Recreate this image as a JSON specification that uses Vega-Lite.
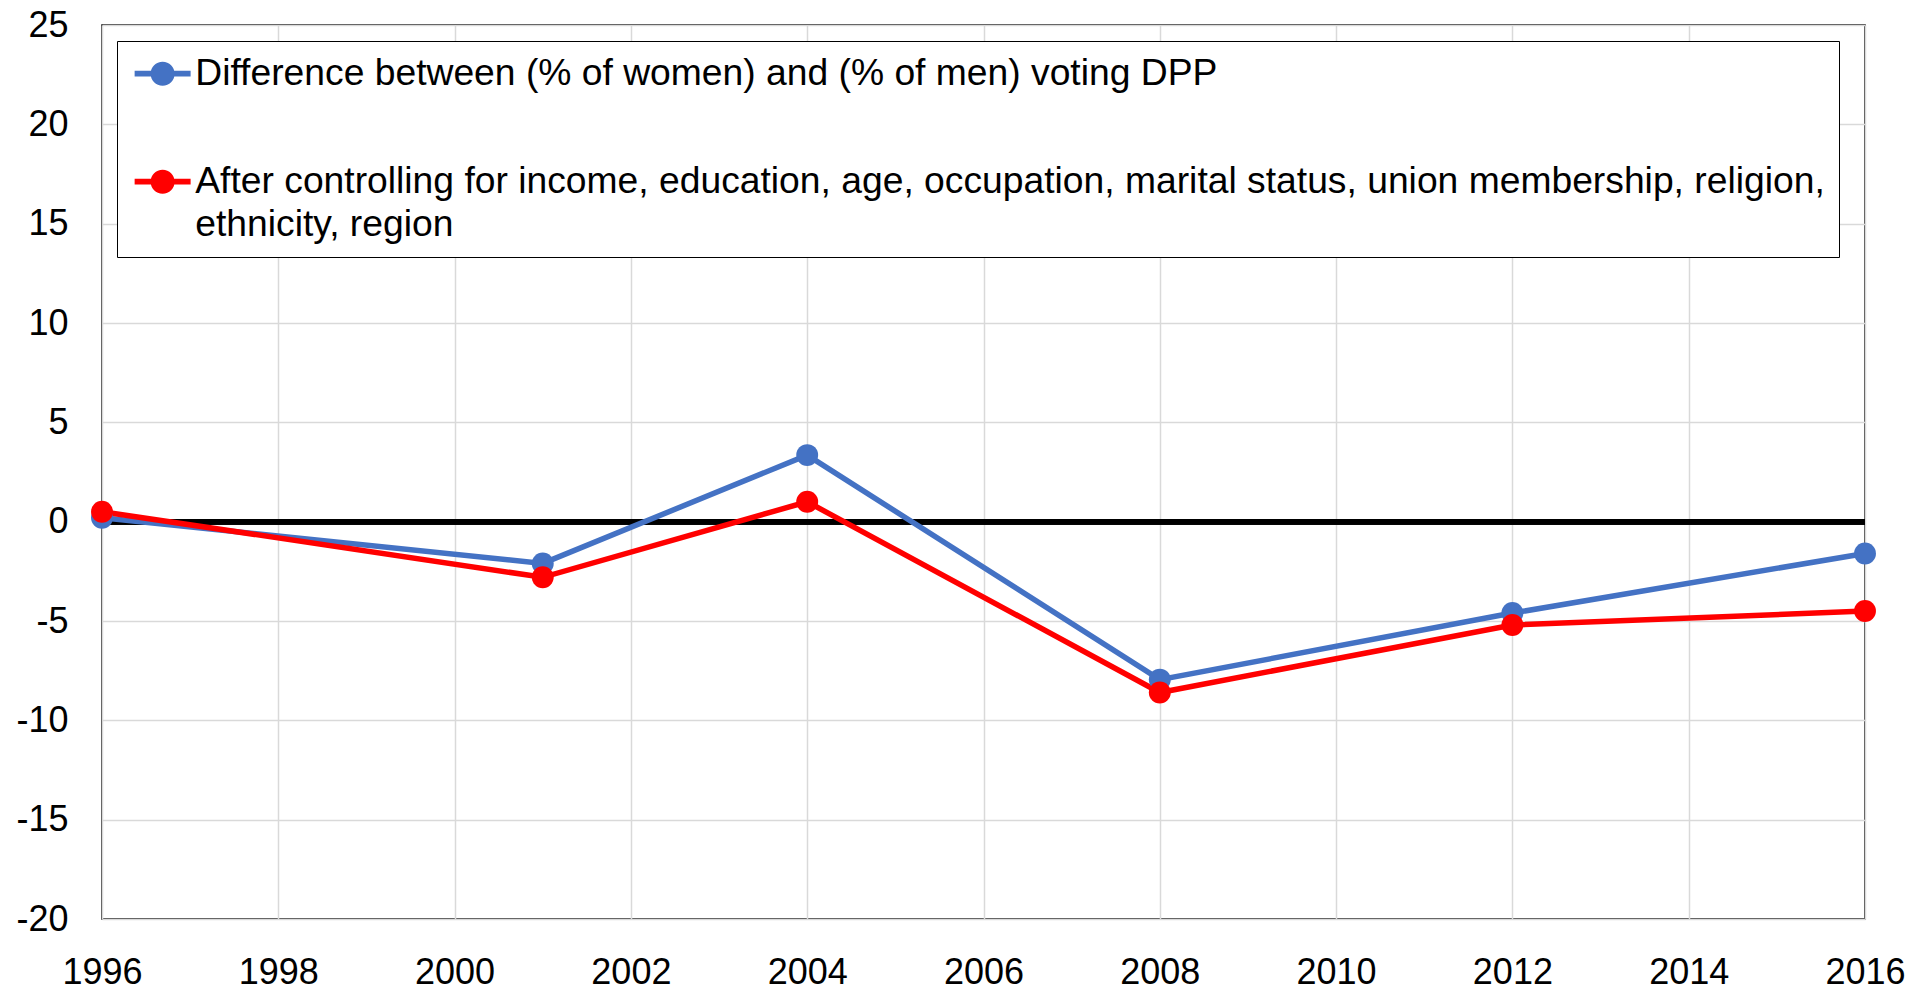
{
  "$schema": "https://vega.github.io/schema/vega-lite/v6.json",
  "width": 1763,
  "height": 894,
  "autosize": "none",
  "padding": {"left": 102, "top": 25, "right": 61, "bottom": 73},
  "background": "white",
  "config": {
    "font": "Liberation Sans",
    "view": {"stroke": "#000000", "strokeWidth": 1.5},
    "axis": {
      "grid": true,
      "gridColor": "#D9D9D9",
      "gridWidth": 1.5,
      "domain": false,
      "ticks": false,
      "labelFontSize": 36,
      "labelColor": "#000000",
      "labelFont": "Liberation Sans",
      "title": null
    }
  },
  "data": {
    "values": [
      {"year": 1996, "value": 0.2, "series": "Difference between (% of women) and (% of men) voting DPP"},
      {"year": 2001, "value": -2.1, "series": "Difference between (% of women) and (% of men) voting DPP"},
      {"year": 2004, "value": 3.35, "series": "Difference between (% of women) and (% of men) voting DPP"},
      {"year": 2008, "value": -7.95, "series": "Difference between (% of women) and (% of men) voting DPP"},
      {"year": 2012, "value": -4.6, "series": "Difference between (% of women) and (% of men) voting DPP"},
      {"year": 2016, "value": -1.6, "series": "Difference between (% of women) and (% of men) voting DPP"},
      {"year": 1996, "value": 0.5, "series": "After controlling for income, education, age, occupation, marital status, union membership, religion, ethnicity, region"},
      {"year": 2001, "value": -2.8, "series": "After controlling for income, education, age, occupation, marital status, union membership, religion, ethnicity, region"},
      {"year": 2004, "value": 1.0, "series": "After controlling for income, education, age, occupation, marital status, union membership, religion, ethnicity, region"},
      {"year": 2008, "value": -8.6, "series": "After controlling for income, education, age, occupation, marital status, union membership, religion, ethnicity, region"},
      {"year": 2012, "value": -5.2, "series": "After controlling for income, education, age, occupation, marital status, union membership, religion, ethnicity, region"},
      {"year": 2016, "value": -4.5, "series": "After controlling for income, education, age, occupation, marital status, union membership, religion, ethnicity, region"}
    ]
  },
  "layer": [
    {
      "mark": {"type": "rule", "color": "#000000", "strokeWidth": 5},
      "encoding": {"y": {"datum": 0, "type": "quantitative"}}
    },
    {
      "mark": {
        "type": "line",
        "strokeWidth": 5.5,
        "point": {"filled": true, "size": 480, "opacity": 1}
      },
      "encoding": {
        "x": {
          "field": "year",
          "type": "quantitative",
          "scale": {"domain": [1996, 2016], "nice": false, "zero": false},
          "axis": {
            "values": [1996, 1998, 2000, 2002, 2004, 2006, 2008, 2010, 2012, 2014, 2016],
            "format": "d",
            "labelPadding": 36,
            "labelFlush": false,
            "labelOverlap": false
          }
        },
        "y": {
          "field": "value",
          "type": "quantitative",
          "scale": {"domain": [-20, 25], "nice": false, "zero": false},
          "axis": {
            "values": [-20, -15, -10, -5, 0, 5, 10, 15, 20, 25],
            "labelExpr": "'' + datum.value",
            "labelPadding": 34,
            "labelOverlap": false
          }
        },
        "color": {
          "field": "series",
          "type": "nominal",
          "scale": {
            "domain": [
              "Difference between (% of women) and (% of men) voting DPP",
              "After controlling for income, education, age, occupation, marital status, union membership, religion, ethnicity, region"
            ],
            "range": ["#4472C4", "#FF0000"]
          },
          "legend": {
            "orient": "none",
            "legendX": 15,
            "legendY": 16,
            "title": null,
            "strokeColor": "#000000",
            "fillColor": "#FFFFFF",
            "padding": 14,
            "rowPadding": 70,
            "labelFontSize": 37.25,
            "labelFont": "Liberation Sans",
            "labelColor": "#000000",
            "labelLimit": 0,
            "labelOffset": 14,
            "symbolOffset": 13,
            "symbolSize": 576,
            "symbolStrokeWidth": 0,
            "symbolType": "M-2.333,-0.23 H2.333 V0.23 H-2.333 Z M-1,0 A1,1 0 1,1 1,0 A1,1 0 1,1 -1,0 Z",
            "labelExpr": "indexof(datum.label, 'ethnicity') > 0 ? ['After controlling for income, education, age, occupation, marital status, union membership, religion,', 'ethnicity, region'] : datum.label",
            "encode": {
              "symbols": {
                "update": {
                  "fill": {"scale": "color", "field": "value"},
                  "stroke": {"value": "transparent"},
                  "opacity": {"value": 1}
                }
              },
              "labels": {
                "update": {
                  "lineHeight": {"value": 43}
                }
              }
            }
          }
        }
      }
    }
  ]
}
